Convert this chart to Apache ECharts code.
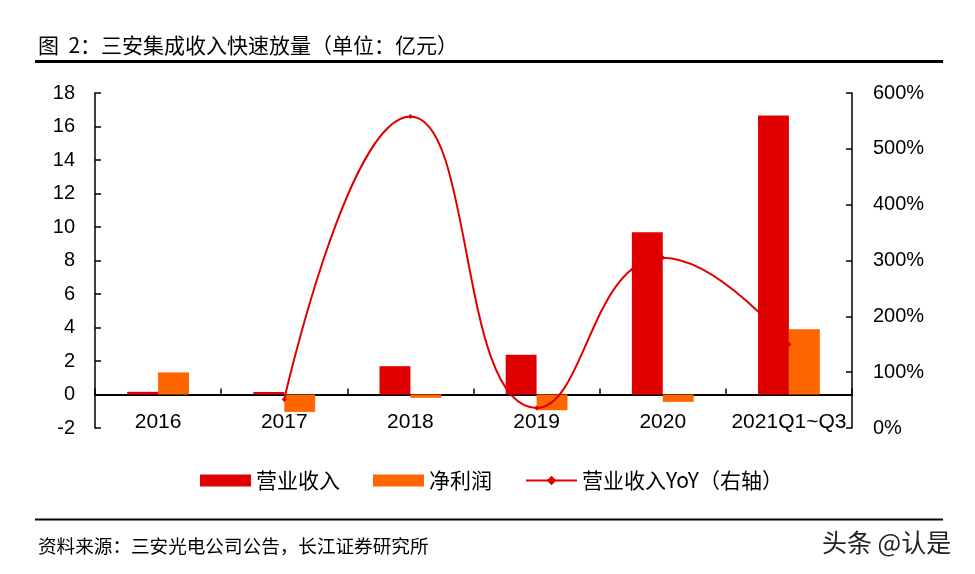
<!DOCTYPE html>
<html>
<head>
<meta charset="utf-8">
<script src="https://cdn.jsdelivr.net/npm/echarts@6/dist/echarts.min.js"></script>
<style>
html,body{margin:0;padding:0;background:#fff;}
#chart{width:975px;height:574px;}
</style>
</head>
<body>
<div id="chart"></div>
<script>
var categories = ['2016', '2017', '2018', '2019', '2020', '2021Q1~Q3'];
var revenue = [0.16, 0.15, 1.69, 2.37, 9.69, 16.66];
var netProfit = [1.32, -1.04, -0.2, -0.94, -0.44, 3.9];
var revenueYoY = ['-', 51, 558, 36, 305, 150];
var leftTicks = { min: -2, max: 18, interval: 2 };
var rightTicks = { min: 0, max: 600, interval: 100 };
var titleText = '图  2：三安集成收入快速放量（单位：亿元）';
var sourceText = '资料来源：三安光电公司公告，长江证券研究所';
var watermarkText = '头条 @认是';

var chart = echarts.init(document.getElementById('chart'), null, { renderer: 'canvas' });
var cjk = '"Noto Sans CJK SC", sans-serif';
var latin = '"Liberation Sans", Arial, sans-serif';

var option = {
  backgroundColor: '#fff',
  animation: false,
  grid: { left: 95, right: 123, top: 93, bottom: 146, containLabel: false },
  legend: {
    left: 195, top: 465,
    itemWidth: 51, itemHeight: 12, itemGap: 33,
    textStyle: { fontSize: 21, color: '#000', fontFamily: cjk },
    data: [
      { name: '营业收入', icon: 'rect' },
      { name: '净利润', icon: 'rect' },
      { name: '营业收入YoY（右轴）' }
    ]
  },
  xAxis: {
    type: 'category',
    data: categories,
    axisLine: { onZero: true, lineStyle: { color: '#000', width: 2 } },
    axisTick: { show: true, inside: true, length: 6, lineStyle: { color: '#000', width: 1.5 } },
    axisLabel: { margin: -16, fontSize: 21, color: '#000', fontFamily: latin, interval: 0 },
    splitLine: { show: false }
  },
  yAxis: [
    {
      type: 'value', min: leftTicks.min, max: leftTicks.max, interval: leftTicks.interval,
      axisLine: { show: true, onZero: false, lineStyle: { color: '#000', width: 1.5 } },
      axisTick: { show: true, inside: true, length: 6, lineStyle: { color: '#000', width: 1.5 } },
      axisLabel: { margin: 20, fontSize: 20, color: '#000', fontFamily: latin },
      splitLine: { show: false }
    },
    {
      type: 'value', min: rightTicks.min, max: rightTicks.max, interval: rightTicks.interval,
      position: 'right',
      axisLine: { show: true, onZero: false, lineStyle: { color: '#000', width: 1.5 } },
      axisTick: { show: true, inside: true, length: 6, lineStyle: { color: '#000', width: 1.5 } },
      axisLabel: { margin: 21, fontSize: 20, color: '#000', fontFamily: latin, formatter: '{value}%' },
      splitLine: { show: false }
    }
  ],
  series: [
    {
      name: '营业收入', type: 'bar', data: revenue, yAxisIndex: 0,
      barGap: '0%', barCategoryGap: '51%',
      itemStyle: { color: '#E00000' }
    },
    {
      name: '净利润', type: 'bar', data: netProfit, yAxisIndex: 0,
      barGap: '0%', barCategoryGap: '51%',
      itemStyle: { color: '#FF6600' }
    },
    {
      name: '营业收入YoY（右轴）', type: 'line', data: revenueYoY, yAxisIndex: 1,
      smooth: 0.5, symbol: 'diamond', symbolSize: 5, showSymbol: true,
      lineStyle: { color: '#E00000', width: 2 },
      itemStyle: { color: '#E00000' },
      z: 5
    }
  ],
  graphic: [
    { type: 'text', left: 38, top: 35, style: { text: titleText, font: '21px ' + cjk, fill: '#000' } },
    { type: 'rect', shape: { x: 35, y: 60, width: 908, height: 3 }, style: { fill: '#000' } },
    { type: 'rect', shape: { x: 35, y: 518.5, width: 908, height: 2 }, style: { fill: '#000' } },
    { type: 'text', left: 38, top: 537, style: { text: sourceText, font: '18.6px ' + cjk, fill: '#000' } },
    { type: 'text', left: 822, top: 530, style: { text: watermarkText, font: '25px ' + cjk, fill: '#222' } }
  ]
};
chart.setOption(option);
</script>
</body>
</html>
